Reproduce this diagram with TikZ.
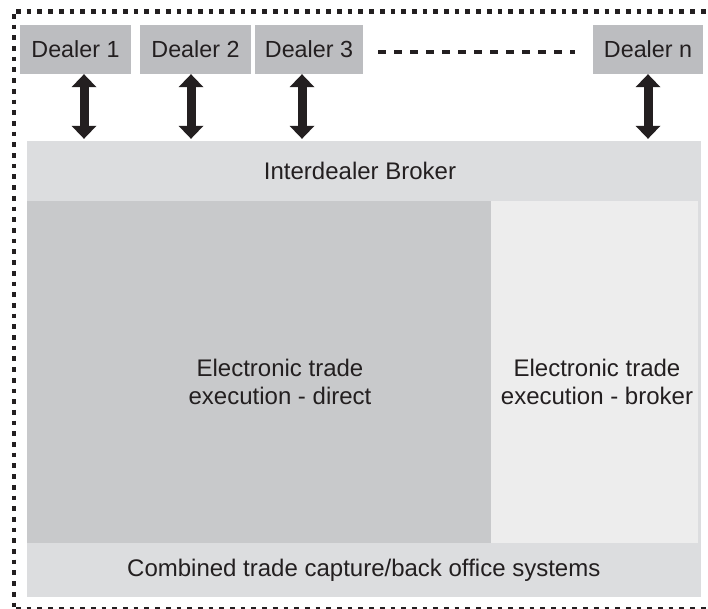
\documentclass[tikz,border=0pt]{standalone}
\usepackage{fontspec}
\setmainfont{Liberation Sans}
\usetikzlibrary{arrows.meta,calc}
\definecolor{dealerc}{RGB}{188,189,192}
\definecolor{bandc}{RGB}{220,221,223}
\definecolor{directc}{RGB}{200,201,203}
\definecolor{brokerc}{RGB}{237,237,237}
\definecolor{inkc}{RGB}{35,31,32}
\tikzset{
  dealerbox/.style={fill=dealerc, minimum height=49pt, inner sep=0pt, text=inkc, font=\fontsize{23.3}{27}\selectfont},
  panel/.style={inner sep=0pt, text=inkc},
  txt/.style={inner sep=0pt, text=inkc, align=center},
  dblarrow/.style={draw=inkc, line width=9pt,
    {Triangle[width=25pt,length=13pt,line width=0pt]}-{Triangle[width=25pt,length=13pt,line width=0pt]}},
  framedots/.style={draw=inkc, line width=4.7pt, dash pattern=on 4.7pt off 6pt},
  framedash/.style={draw=inkc, line width=2pt, dash pattern=on 4.7pt off 6pt},
  ellip/.style={draw=inkc, line width=4pt, dash pattern=on 8pt off 8pt}
}
\begin{document}
\begin{tikzpicture}[x=1pt,y=-1pt, font=\fontsize{24}{27.5}\selectfont]
\useasboundingbox (0,0) rectangle (708,609);
% frame
\draw[framedots] (16,11.5) -- (708,11.5);
\draw[framedots] (14,14) -- (14,609);
\draw[framedash] (16,607.5) -- (708,607.5);
% dealers
\node[dealerbox, minimum width=111pt] (d1) at (75.5,49.5) {Dealer 1};
\node[dealerbox, minimum width=111pt] (d2) at (195.5,49.5) {Dealer 2};
\node[dealerbox, minimum width=108pt] (d3) at (309,49.5) {Dealer 3};
\node[dealerbox, minimum width=110pt] (dn) at (648,49.5) {Dealer n};
\coordinate (e1) at (378,51.7);
\coordinate (e2) at (575,51.7);
\draw[ellip] (e1) -- (e2);
% panels
\node[panel, fill=bandc, minimum width=673.5pt, minimum height=456.3pt] (base) at (363.75,369.15) {};
\node[panel, minimum width=673.5pt, minimum height=60pt] (ib) at (363.75,171) {};
\node[txt] (ibtxt) at (360,171) {Interdealer Broker};
\node[panel, fill=directc, minimum width=464pt, minimum height=342pt] (dir) at (259,372) {};
\node[panel, fill=brokerc, minimum width=207pt, minimum height=342pt] (brk) at (594.5,372) {};
\node[panel, minimum width=673.5pt, minimum height=54.3pt] (bo) at (363.75,570.15) {Combined trade capture/back office systems};
\node[txt] (dirtxt) at (280,382) {Electronic trade\\execution - direct};
\node[txt] (brktxt) at (597,382) {Electronic trade\\execution - broker};
% arrows
\coordinate (a1) at (84,0);
\coordinate (a2) at (191,0);
\coordinate (a3) at (302,0);
\coordinate (a4) at (648,0);
\draw[dblarrow] (a1 |- d1.south) -- ($(a1 |- ib.north)+(0,-2)$);
\draw[dblarrow] (a2 |- d2.south) -- ($(a2 |- ib.north)+(0,-2)$);
\draw[dblarrow] (a3 |- d3.south) -- ($(a3 |- ib.north)+(0,-2)$);
\draw[dblarrow] (a4 |- dn.south) -- ($(a4 |- ib.north)+(0,-2)$);
\end{tikzpicture}
\end{document}
